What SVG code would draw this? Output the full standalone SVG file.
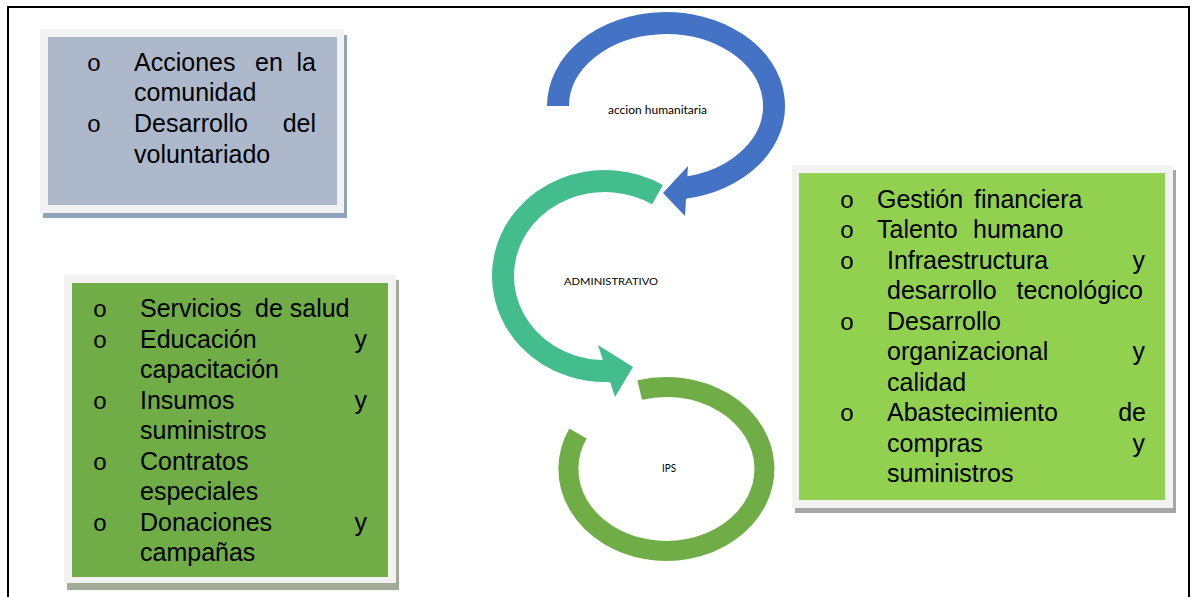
<svg xmlns="http://www.w3.org/2000/svg" width="1195" height="597" viewBox="0 0 1195 597">
  <style>
    .t { font-family: "Liberation Sans", Arial, sans-serif; font-size: 25px; fill: #000; }
    .b { font-family: "Liberation Mono", "Courier New", monospace; font-size: 24px; fill: #000; text-anchor: middle; }
    .e { text-anchor: end; }
    .lbl { font-family: Lato, "Liberation Sans", Arial, sans-serif; fill: #000; }
    .frame { fill: #f2f2f2; }
    .arc { fill: none; stroke-linecap: butt; }
  </style>
  <rect x="0" y="0" width="1195" height="597" fill="#ffffff"/>
  <path d="M8,600 V7 H1189 V600" fill="none" stroke="#000" stroke-width="2"/>

  <g id="connectors">
    <path class="arc" d="M558,106 A108,83 0 1 1 682.9,188" stroke="#4472c4" stroke-width="22"/>
    <polygon points="663,193 688,166 685,216" fill="#4472c4"/>
    <path class="arc" d="M657.5,194.6 A102,95 0 1 0 615.7,370.5" stroke="#43bc8e" stroke-width="22"/>
    <polygon points="633,367 598,345 615,397" fill="#43bc8e"/>
    <path class="arc" d="M639.7,390 A98,82 0 1 1 578,433.5" stroke="#70ad47" stroke-width="20"/>
  </g>

  <g id="node-accion">
    <text class="lbl" x="608" y="114" font-size="10.5" textLength="99" lengthAdjust="spacingAndGlyphs">accion humanitaria</text>
  </g>
  <g id="node-administrativo">
    <text class="lbl" x="564" y="285" font-size="10" textLength="94" lengthAdjust="spacingAndGlyphs">ADMINISTRATIVO</text>
  </g>
  <g id="node-ips">
    <text class="lbl" x="662" y="472" font-size="10.5" textLength="14" lengthAdjust="spacingAndGlyphs">IPS</text>
  </g>

  <g id="box-voluntariado">
    <rect x="43" y="35" width="304" height="183" fill="#8fa4bc"/>
    <rect class="frame" x="40" y="29" width="304" height="184"/>
    <rect x="48" y="37" width="289" height="168" fill="#adb9ca"/>
    <text class="b" x="94" y="71">o</text>
    <text class="t" x="134" y="71">Acciones</text>
    <text class="t" x="255" y="71">en</text>
    <text class="t e" x="316" y="71">la</text>
    <text class="t" x="134" y="101">comunidad</text>
    <text class="b" x="94" y="132">o</text>
    <text class="t" x="134" y="132">Desarrollo</text>
    <text class="t e" x="316" y="132">del</text>
    <text class="t" x="134" y="163">voluntariado</text>
  </g>

  <g id="box-ips">
    <rect x="67" y="280" width="332" height="310" fill="#a2ab96"/>
    <rect class="frame" x="64" y="275" width="332" height="308"/>
    <rect x="72" y="283" width="316" height="294" fill="#70ad47"/>
    <text class="b" x="100" y="317">o</text>
    <text class="t" x="140" y="317">Servicios</text>
    <text class="t" x="255" y="317">de salud</text>
    <text class="b" x="100" y="347.5">o</text>
    <text class="t" x="140" y="347.5">Educación</text>
    <text class="t e" x="367" y="347.5">y</text>
    <text class="t" x="140" y="378">capacitación</text>
    <text class="b" x="100" y="408.5">o</text>
    <text class="t" x="140" y="408.5">Insumos</text>
    <text class="t e" x="367" y="408.5">y</text>
    <text class="t" x="140" y="439">suministros</text>
    <text class="b" x="100" y="469.5">o</text>
    <text class="t" x="140" y="469.5">Contratos</text>
    <text class="t" x="140" y="500">especiales</text>
    <text class="b" x="100" y="530.5">o</text>
    <text class="t" x="140" y="530.5">Donaciones</text>
    <text class="t e" x="367" y="530.5">y</text>
    <text class="t" x="140" y="561">campañas</text>
  </g>

  <g id="box-administrativo">
    <rect x="795" y="170" width="381" height="343" fill="#a6a6a6"/>
    <rect class="frame" x="792" y="165" width="381" height="343"/>
    <rect x="799" y="173" width="366" height="327" fill="#92d050"/>
    <text class="b" x="847" y="208">o</text>
    <text class="t" x="877" y="208">Gestión</text>
    <text class="t" x="974" y="208">financiera</text>
    <text class="b" x="847" y="238">o</text>
    <text class="t" x="877" y="238">Talento</text>
    <text class="t" x="973" y="238">humano</text>
    <text class="b" x="847" y="268.5">o</text>
    <text class="t" x="887" y="268.5">Infraestructura</text>
    <text class="t e" x="1145" y="268.5">y</text>
    <text class="t" x="887" y="299">desarrollo</text>
    <text class="t e" x="1143" y="299">tecnológico</text>
    <text class="b" x="847" y="329.5">o</text>
    <text class="t" x="887" y="329.5">Desarrollo</text>
    <text class="t" x="887" y="360">organizacional</text>
    <text class="t e" x="1145" y="360">y</text>
    <text class="t" x="887" y="390.5">calidad</text>
    <text class="b" x="847" y="421">o</text>
    <text class="t" x="887" y="421">Abastecimiento</text>
    <text class="t e" x="1146" y="421">de</text>
    <text class="t" x="887" y="451.5">compras</text>
    <text class="t e" x="1145" y="451.5">y</text>
    <text class="t" x="887" y="482">suministros</text>
  </g>
</svg>
